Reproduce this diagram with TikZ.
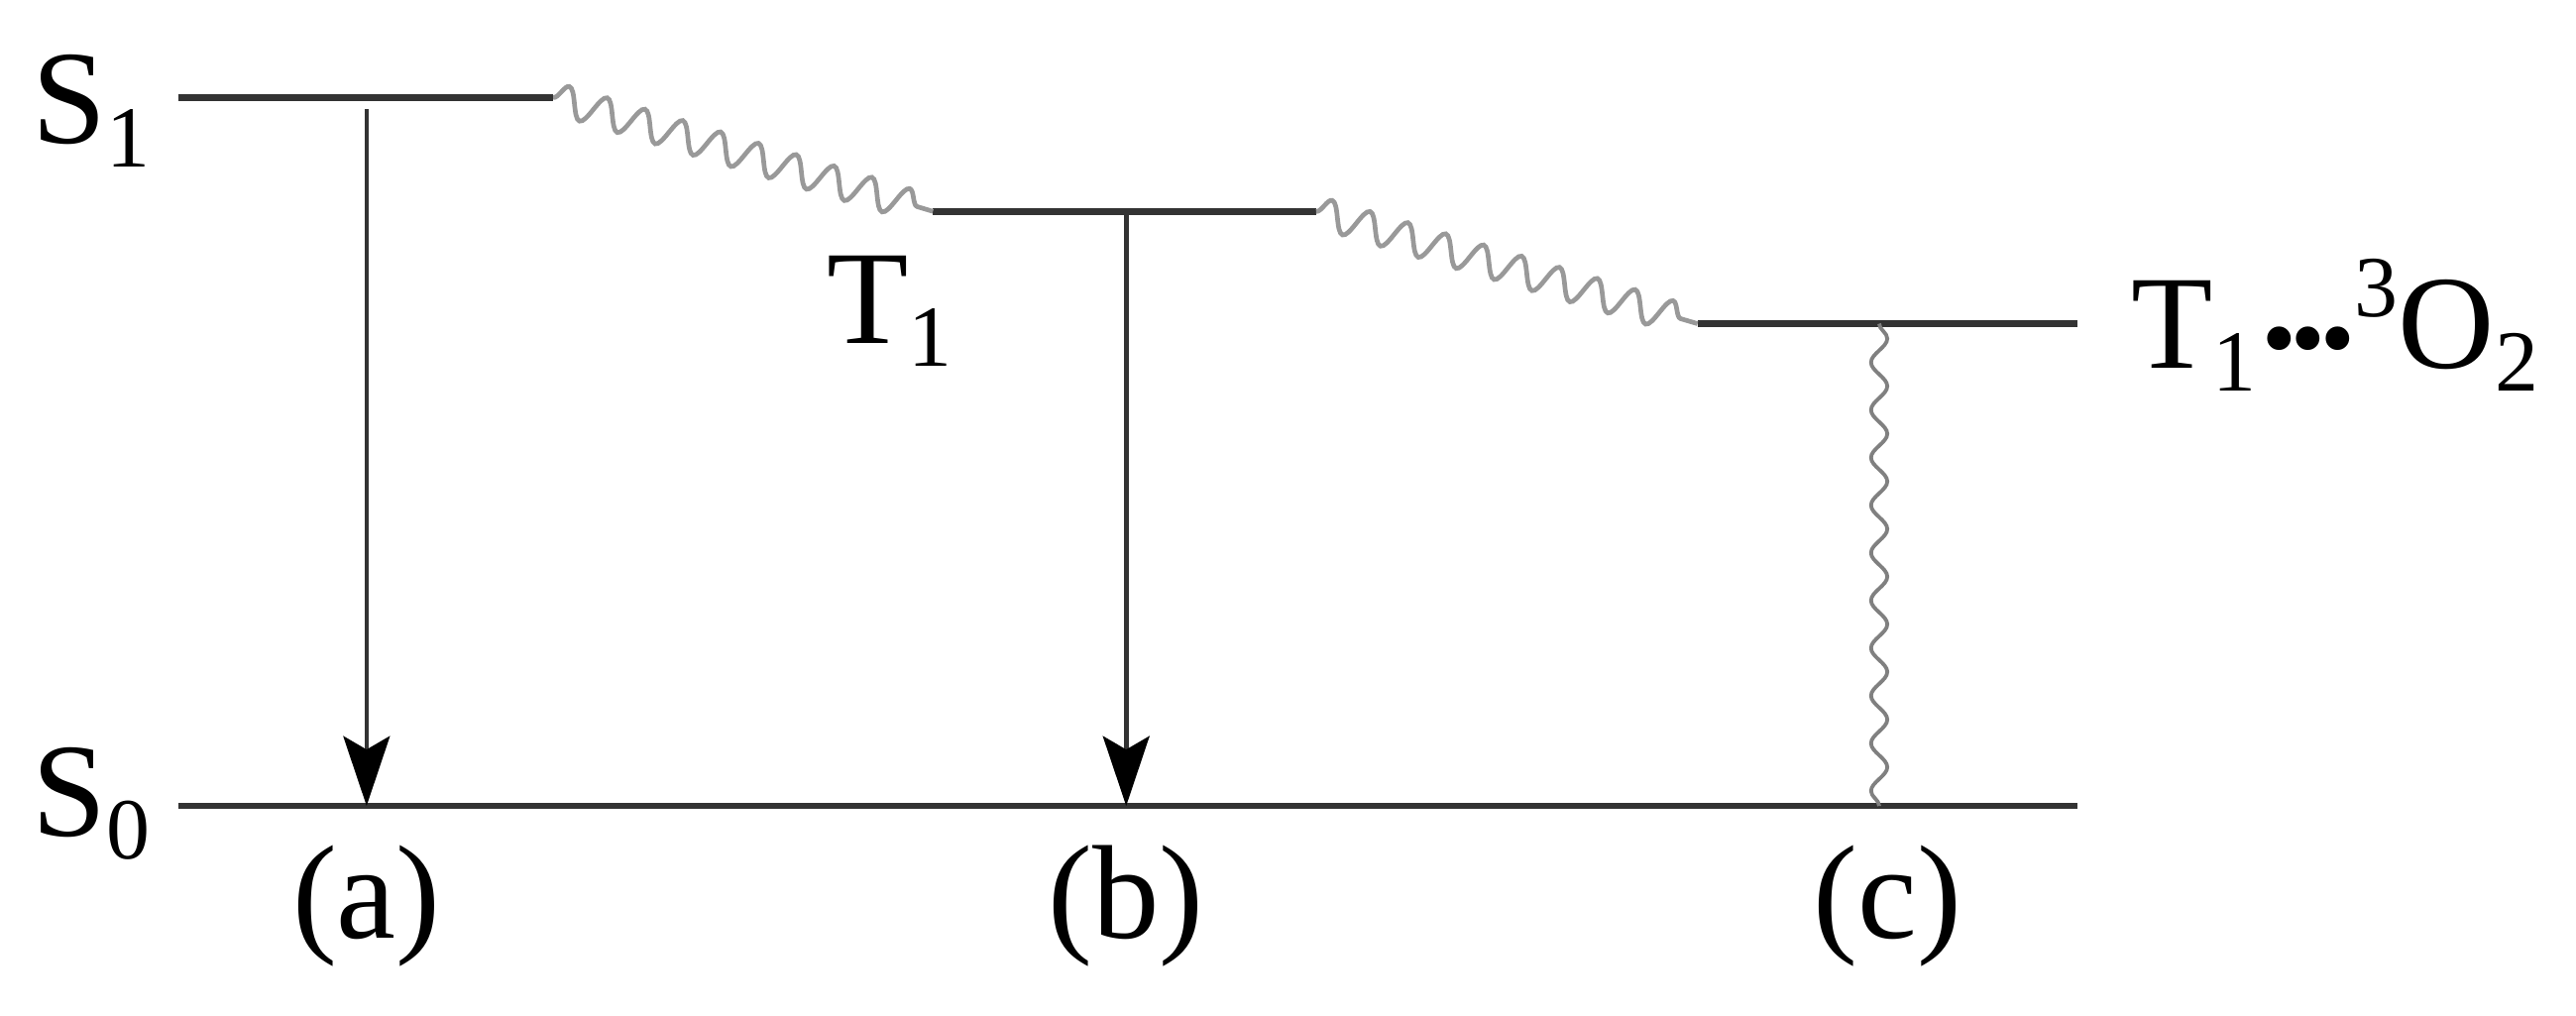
\documentclass[tikz,border=0pt]{standalone}
\usepackage{fontspec}
\setmainfont{Liberation Serif}
\usetikzlibrary{arrows.meta,decorations.pathmorphing}
\newcommand{\lsub}[1]{\raisebox{-4pt}{\fontsize{15}{15}\selectfont #1}}
\newcommand{\lsup}[1]{\raisebox{8.8pt}{\fontsize{15}{15}\selectfont #1}}
\newcommand{\tdots}{\raisebox{3.4pt}{\fontsize{25}{25}\selectfont\bfseries\kern0.8pt.\kern-1.2pt.\kern-1.2pt.\kern-0.2pt}}
\begin{document}
\begin{tikzpicture}[x=0.01cm,y=-0.01cm,
  level/.style={draw=black!80, line width=1.15pt},
  decay/.style={draw=black!80, line width=0.8pt, -{Stealth[length=12pt,width=8pt,inset=2.3pt,color=black]}},
  wavy/.style={draw=black!40, line width=0.8pt, decorate, decoration={snake, segment length=6.8pt, amplitude=2.6pt}},
  vwavy/.style={draw=black!50, line width=0.65pt, decorate, decoration={snake, segment length=8.2pt, amplitude=1.4pt}},
  lab/.style={inner sep=0pt, font=\fontsize{23}{27}\selectfont}]
\useasboundingbox (0,0) rectangle (1560,615);
% level end points
\coordinate (s1a) at (108,59);
\coordinate (s1b) at (335,59);
\coordinate (t1a) at (565,128);
\coordinate (t1b) at (797,128);
\coordinate (oa) at (1028,196);
\coordinate (ob) at (1258,196);
\coordinate (s0a) at (108,488);
\coordinate (s0b) at (1258,488);
\coordinate (aTop) at (222,66);
\coordinate (aBot) at (222,488);
\coordinate (bTop) at (682,128);
\coordinate (bBot) at (682,488);
\coordinate (cTop) at (1138,196);
\coordinate (cBot) at (1138,488);
% levels
\draw[level] (s1a) -- (s1b);
\draw[level] (t1a) -- (t1b);
\draw[level] (oa) -- (ob);
\draw[level] (s0a) -- (s0b);
% non-radiative transitions
\draw[wavy] (s1b) -- (t1a);
\draw[wavy] (t1b) -- (oa);
\draw[vwavy] (cTop) -- (cBot);
% radiative transitions
\draw[decay] (aTop) -- (aBot);
\draw[decay] (bTop) -- (bBot);
% labels
\node[lab, anchor=base west] (S1lab) at (19,87) {S\lsub{1}};
\node[lab, anchor=base west] (S0lab) at (19,506) {S\lsub{0}};
\node[lab, anchor=base west] (T1lab) at (500,208) {T\lsub{1}};
\node[lab, anchor=base west] (TOlab) at (1290,223) {T\lsub{1}\tdots\lsup{3}O\lsub{2}};
\node[lab, anchor=base] (la) at (222,568) {(a)};
\node[lab, anchor=base] (lb) at (682,568) {(b)};
\node[lab, anchor=base] (lc) at (1143,568) {(c)};
\end{tikzpicture}
\end{document}
